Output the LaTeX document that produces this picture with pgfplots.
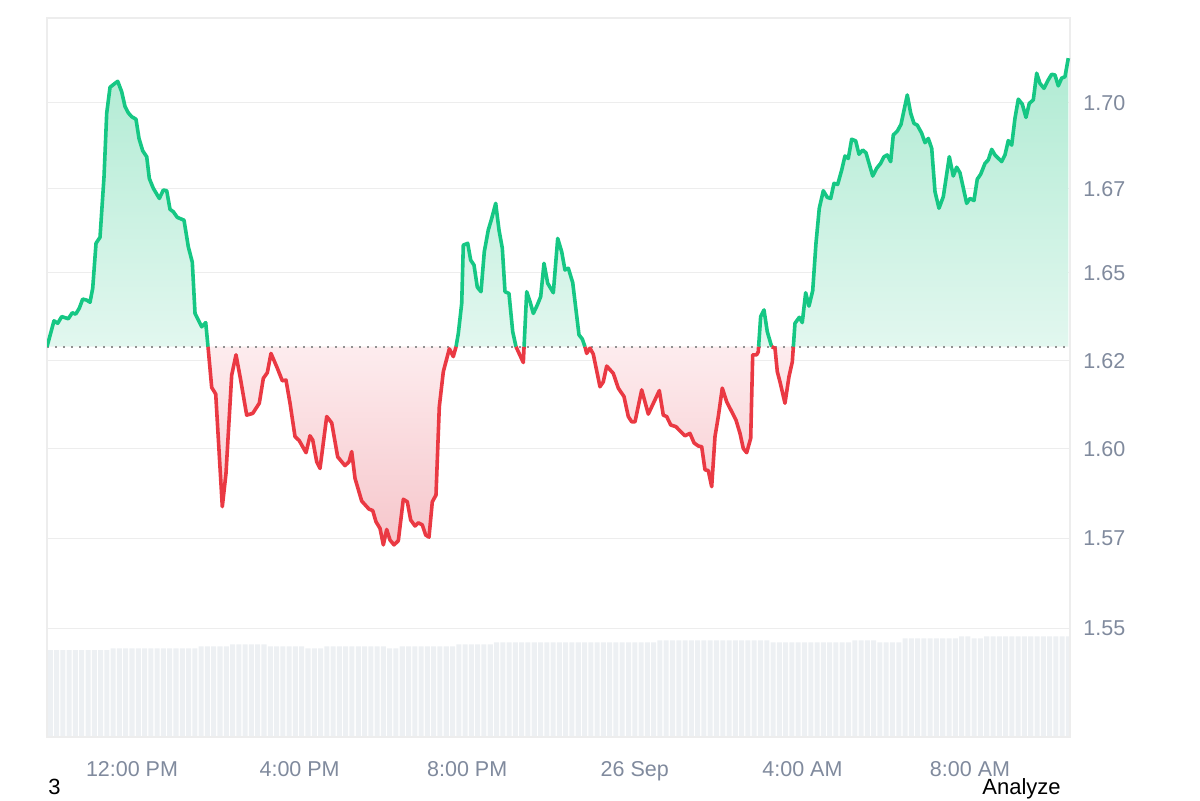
\documentclass[border=0pt]{standalone}
\usepackage{pgfplots}
\pgfplotsset{compat=1.18}
\usepackage{pgfplotstable}
\usepackage{fontspec}
\setmainfont{Liberation Sans}
\definecolor{cmcgreen}{RGB}{22,199,132}
\definecolor{cmcred}{RGB}{234,57,67}
\definecolor{gtop}{RGB}{176,235,211}
\definecolor{gbot}{RGB}{226,247,239}
\definecolor{rtop}{RGB}{253,236,238}
\definecolor{rbot}{RGB}{246,198,203}
\definecolor{gridc}{RGB}{237,237,237}
\definecolor{tickc}{RGB}{128,138,157}
\definecolor{volc}{RGB}{237,240,243}
\definecolor{dotc}{RGB}{145,145,145}

\pgfplotstableread{
h v
9.971 1.6304
10.138 1.6378
10.227 1.6371
10.322 1.6390
10.480 1.6384
10.575 1.6401
10.656 1.6397
10.742 1.6414
10.823 1.6440
10.919 1.6437
10.998 1.6431
11.062 1.6471
11.141 1.6599
11.236 1.6616
11.332 1.6789
11.396 1.6970
11.475 1.7044
11.570 1.7053
11.659 1.7061
11.754 1.7031
11.833 1.6989
11.912 1.6971
11.993 1.6960
12.095 1.6953
12.167 1.6898
12.255 1.6863
12.351 1.6846
12.413 1.6784
12.508 1.6756
12.652 1.6727
12.747 1.6751
12.828 1.6749
12.907 1.6696
12.986 1.6689
13.081 1.6673
13.241 1.6665
13.344 1.6589
13.439 1.6545
13.504 1.6399
13.663 1.6361
13.759 1.6373
13.814 1.6304
13.902 1.6188
13.998 1.6169
14.155 1.5848
14.243 1.5943
14.379 1.6223
14.482 1.6281
14.594 1.6209
14.737 1.6109
14.881 1.6114
15.038 1.6143
15.134 1.6214
15.229 1.6230
15.317 1.6285
15.468 1.6243
15.587 1.6207
15.675 1.6209
15.771 1.6143
15.890 1.6048
15.993 1.6036
16.153 1.6002
16.248 1.6050
16.313 1.6038
16.408 1.5976
16.487 1.5957
16.647 1.6105
16.766 1.6087
16.909 1.5990
17.083 1.5965
17.179 1.5976
17.243 1.6005
17.322 1.5929
17.482 1.5864
17.656 1.5841
17.745 1.5837
17.823 1.5805
17.919 1.5786
17.998 1.5739
18.079 1.5783
18.157 1.5753
18.253 1.5739
18.356 1.5751
18.475 1.5869
18.570 1.5862
18.651 1.5810
18.754 1.5793
18.833 1.5802
18.928 1.5796
19.009 1.5767
19.088 1.5761
19.167 1.5862
19.255 1.5881
19.334 1.6133
19.430 1.6233
19.573 1.6298
19.668 1.6276
19.733 1.6304
19.788 1.6342
19.869 1.6428
19.907 1.6594
20.012 1.6599
20.083 1.6551
20.162 1.6537
20.241 1.6474
20.329 1.6461
20.408 1.6575
20.503 1.6637
20.585 1.6670
20.680 1.6713
20.759 1.6637
20.838 1.6585
20.902 1.6461
20.997 1.6456
21.086 1.6347
21.165 1.6304
21.339 1.6259
21.357 1.6304
21.420 1.6461
21.499 1.6433
21.578 1.6399
21.673 1.6423
21.754 1.6447
21.833 1.6542
21.921 1.6485
22.055 1.6458
22.160 1.6613
22.255 1.6575
22.334 1.6523
22.413 1.6528
22.518 1.6487
22.668 1.6338
22.747 1.6326
22.811 1.6304
22.852 1.6285
22.931 1.6300
23.009 1.6283
23.050 1.6259
23.169 1.6190
23.248 1.6204
23.329 1.6249
23.487 1.6228
23.606 1.6186
23.742 1.6162
23.845 1.6105
23.926 1.6090
24.005 1.6090
24.165 1.6181
24.322 1.6112
24.585 1.6179
24.680 1.6109
24.761 1.6105
24.857 1.6081
24.983 1.6076
25.079 1.6064
25.198 1.6050
25.317 1.6057
25.413 1.6030
25.515 1.6021
25.596 1.6019
25.675 1.5953
25.754 1.5951
25.835 1.5905
25.914 1.6048
25.993 1.6105
26.088 1.6186
26.193 1.6147
26.313 1.6119
26.415 1.6095
26.511 1.6057
26.589 1.6014
26.670 1.6002
26.766 1.6043
26.814 1.6281
26.909 1.6281
26.947 1.6290
26.955 1.6304
27.004 1.6390
27.083 1.6409
27.162 1.6347
27.267 1.6304
27.346 1.6300
27.401 1.6233
27.465 1.6204
27.584 1.6143
27.680 1.6219
27.759 1.6261
27.784 1.6304
27.823 1.6371
27.926 1.6388
27.997 1.6373
28.078 1.6458
28.157 1.6420
28.246 1.6464
28.324 1.6599
28.403 1.6699
28.499 1.6749
28.594 1.6730
28.675 1.6727
28.754 1.6770
28.842 1.6767
28.938 1.6808
29.016 1.6848
29.095 1.6841
29.176 1.6896
29.272 1.6891
29.351 1.6853
29.439 1.6865
29.518 1.6857
29.678 1.6791
29.773 1.6813
29.868 1.6827
29.947 1.6846
30.026 1.6851
30.107 1.6832
30.169 1.6908
30.265 1.6919
30.353 1.6938
30.503 1.7022
30.585 1.6970
30.663 1.6941
30.742 1.6936
30.847 1.6913
30.926 1.6886
31.005 1.6898
31.086 1.6870
31.165 1.6746
31.260 1.6699
31.363 1.6732
31.506 1.6846
31.601 1.6791
31.682 1.6816
31.761 1.6800
31.921 1.6713
32.000 1.6727
32.095 1.6721
32.174 1.6782
32.255 1.6796
32.358 1.6827
32.437 1.6837
32.518 1.6867
32.596 1.6851
32.756 1.6832
32.835 1.6851
32.914 1.6892
32.995 1.6879
33.074 1.6956
33.153 1.7010
33.248 1.6996
33.336 1.6958
33.415 1.6998
33.511 1.7008
33.592 1.7084
33.670 1.7055
33.766 1.7041
33.868 1.7065
33.949 1.7081
34.028 1.7079
34.107 1.7048
34.188 1.7070
34.267 1.7074
34.346 1.7127
}\price

\begin{document}
\begin{tikzpicture}[x=1pt,y=1pt]
\useasboundingbox (0,0) rectangle (600,400);
\clip (0,0) rectangle (600,400);
% volume
\begin{axis}[at={(23.5pt,31.5pt)}, anchor=south west, scale only axis,
  width=511.5pt, height=359.5pt, xmin=9.971, xmax=34.387, ymin=0, ymax=719,
  hide axis]
\addplot[ybar, bar width=0.12, fill=volc, draw=none] coordinates {
(10.05,87)(10.20,87)(10.35,87)(10.50,87)(10.65,87)(10.80,87)(10.95,87)(11.10,87)(11.25,87)(11.40,87)
(11.55,88.7)(11.70,88.7)(11.85,88.7)(12.00,88.7)(12.15,88.7)(12.30,88.7)(12.45,88.7)(12.60,88.7)(12.75,88.7)(12.90,88.7)(13.05,88.7)(13.20,88.7)(13.35,88.7)(13.50,88.7)
(13.65,90.7)(13.80,90.7)(13.95,90.7)(14.10,90.7)(14.25,90.7)
(14.40,92.7)(14.55,92.7)(14.70,92.7)(14.85,92.7)(15.00,92.7)(15.15,92.7)
(15.30,90.7)(15.45,90.7)(15.60,90.7)(15.75,90.7)(15.90,90.7)(16.05,90.7)
(16.20,88.7)(16.35,88.7)(16.50,88.7)
(16.65,90.7)(16.80,90.7)(16.95,90.7)(17.10,90.7)(17.25,90.7)(17.40,90.7)(17.55,90.7)(17.70,90.7)(17.85,90.7)(18.00,90.7)
(18.15,88.7)(18.30,88.7)
(18.45,90.7)(18.60,90.7)(18.75,90.7)(18.90,90.7)(19.05,90.7)(19.20,90.7)(19.35,90.7)(19.50,90.7)(19.65,90.7)
(19.80,92.7)(19.95,92.7)(20.10,92.7)(20.25,92.7)(20.40,92.7)(20.55,92.7)
(20.70,94.7)(20.85,94.7)(21.00,94.7)(21.15,94.7)(21.30,94.7)(21.45,94.7)(21.60,94.7)(21.75,94.7)(21.90,94.7)(22.05,94.7)(22.20,94.7)(22.35,94.7)(22.50,94.7)(22.65,94.7)(22.80,94.7)(22.95,94.7)(23.10,94.7)(23.25,94.7)(23.40,94.7)(23.55,94.7)(23.70,94.7)(23.85,94.7)(24.00,94.7)(24.15,94.7)(24.30,94.7)(24.45,94.7)
(24.60,96.7)(24.75,96.7)(24.90,96.7)(25.05,96.7)(25.20,96.7)(25.35,96.7)(25.50,96.7)(25.65,96.7)(25.80,96.7)(25.95,96.7)(26.10,96.7)(26.25,96.7)(26.40,96.7)(26.55,96.7)(26.70,96.7)(26.85,96.7)(27.00,96.7)(27.15,96.7)
(27.30,94.7)(27.45,94.7)(27.60,94.7)(27.75,94.7)(27.90,94.7)(28.05,94.7)(28.20,94.7)(28.35,94.7)(28.50,94.7)(28.65,94.7)(28.80,94.7)(28.95,94.7)(29.10,94.7)
(29.25,96.7)(29.40,96.7)(29.55,96.7)(29.70,96.7)
(29.85,94.7)(30.00,94.7)(30.15,94.7)(30.30,94.7)
(30.45,98.7)(30.60,98.7)(30.75,98.7)(30.90,98.7)(31.05,98.7)(31.20,98.7)(31.35,98.7)(31.50,98.7)(31.65,98.7)
(31.80,100.7)(31.95,100.7)
(32.10,98.7)(32.25,98.7)
(32.40,100.7)(32.55,100.7)(32.70,100.7)(32.85,100.7)(33.00,100.7)(33.15,100.7)(33.30,100.7)(33.45,100.7)(33.60,100.7)(33.75,100.7)(33.90,100.7)(34.05,100.7)(34.20,100.7)(34.35,100.7)
};
\end{axis}
% price
\begin{axis}[at={(23.5pt,31.5pt)}, anchor=south west, scale only axis,
  width=511.5pt, height=359.5pt, xmin=9.971, xmax=34.387,
  ymin=1.519116, ymax=1.724154,
  axis line style={draw=gridc, line width=0.6pt},
  ymajorgrids, grid style={draw=gridc, line width=0.6pt},
  major tick length=0pt,
  xtick={12,16,20,24,28,32},
  xticklabels={12:00 PM,4:00 PM,8:00 PM,26 Sep,4:00 AM,8:00 AM},
  ytick={1.55,1.5757,1.6013,1.6264,1.6515,1.6755,1.70},
  yticklabels={1.55,1.57,1.60,1.62,1.65,1.67,1.70},
  yticklabel pos=right,
  ticklabel style={font=\fontsize{10.75}{12}\selectfont, text=tickc, inner sep=0pt},
  yticklabel style={anchor=west, xshift=6.5pt},
  xticklabel style={anchor=base, yshift=-19.5pt},
]
\addplot[draw=none, top color=gtop, bottom color=gbot]
  table[x=h, y expr={max(\thisrow{v},1.630418)}] {\price}
  -- (axis cs:34.346,1.630418) -- (axis cs:9.971,1.630418) -- cycle;
\addplot[draw=none, top color=rtop, bottom color=rbot]
  table[x=h, y expr={min(\thisrow{v},1.630418)}] {\price}
  -- (axis cs:34.346,1.630418) -- (axis cs:9.971,1.630418) -- cycle;
\addplot[dotc, line width=1pt, dash pattern=on 1pt off 3pt] coordinates {(9.971,1.630418) (34.387,1.630418)};
\addplot[cmcgreen, line width=1.8pt, line join=round, unbounded coords=jump,
  restrict y to domain=1.63035:1.9] table[x=h,y=v] {\price};
\addplot[cmcred, line width=1.8pt, line join=round, unbounded coords=jump,
  restrict y to domain=1.4:1.63045] table[x=h,y=v] {\price};
\end{axis}
\node[anchor=base west, inner sep=0pt, font=\fontsize{11}{12}\selectfont] at (24,2.6) {3};
\node[anchor=base west, inner sep=0pt, font=\fontsize{11}{12}\selectfont] at (491,2.6) {Analyze};
\end{tikzpicture}
\end{document}
